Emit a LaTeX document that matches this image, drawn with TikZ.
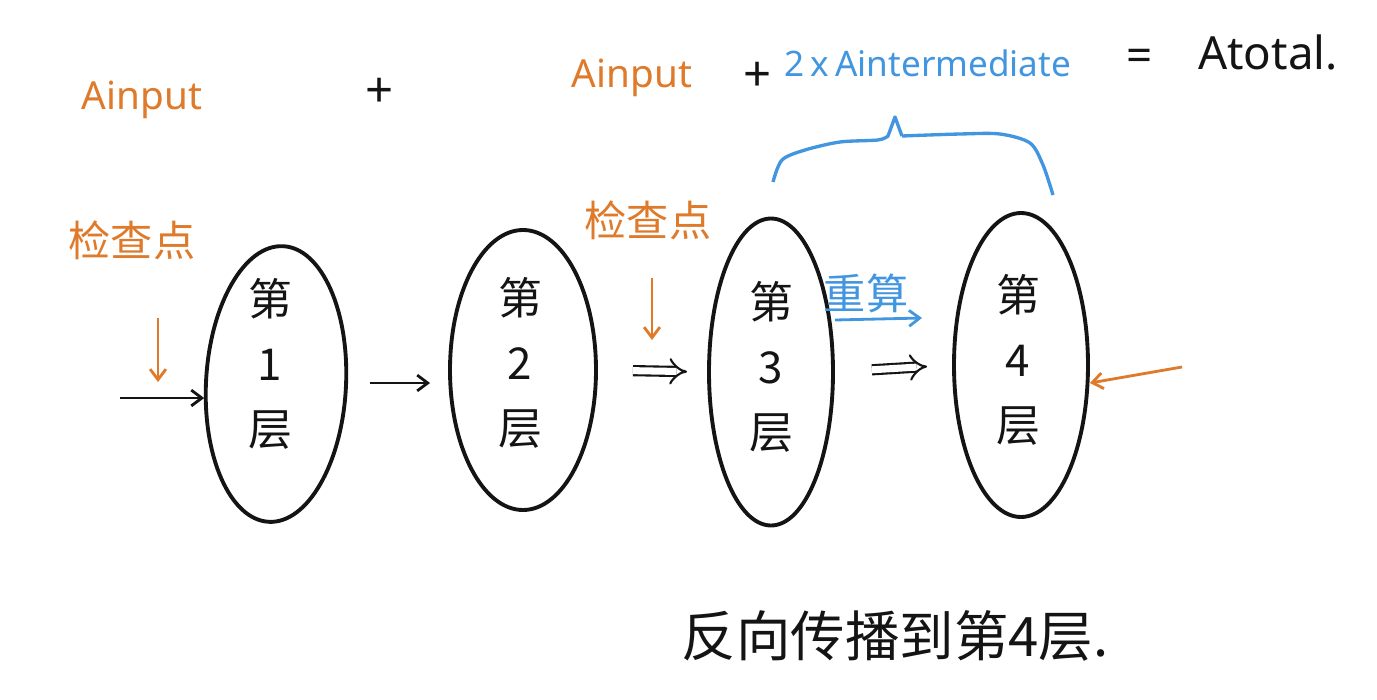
\documentclass[tikz,border=0pt]{standalone}
\usepackage{fontspec}
\setmainfont{Noto Sans}
\newfontfamily\cjk{Noto Sans CJK SC}
\usetikzlibrary{shapes.geometric,arrows.meta}
\definecolor{hand}{RGB}{20,20,20}
\definecolor{orng}{RGB}{222,122,42}
\definecolor{blu}{RGB}{66,150,224}
\tikzset{
  layer/.style={draw=hand, line width=2.2pt, ellipse, inner sep=0pt},
  ltext/.style={inner sep=0pt, align=center, font=\cjk\fontsize{25}{37}\selectfont, text=hand},
  lbl/.style={inner sep=0pt, font=\fontsize{22}{26}\selectfont},
  cjklbl/.style={inner sep=0pt, font=\cjk\fontsize{24}{28}\selectfont},
  arr/.style={line width=1.6pt, -{Straight Barb[length=6pt,width=9pt]}},
  darr/.style={line width=1.2pt, double, double distance=4pt, -{Implies[length=6pt,width=12pt]}},
}
\begin{document}
\begin{tikzpicture}[x=0.02cm,y=-0.02cm]
\useasboundingbox (0,0) rectangle (1377,700);
\fill[white] (0,0) rectangle (1377,700);
% layers
\node[layer, minimum width=140*0.02cm, minimum height=276*0.02cm, rotate=-3] (L1) at (276,384) {};
\node[layer, minimum width=146*0.02cm, minimum height=280*0.02cm] (L2) at (523,370) {};
\node[layer, minimum width=124*0.02cm, minimum height=307*0.02cm] (L3) at (771,372) {};
\node[layer, minimum width=134*0.02cm, minimum height=304*0.02cm] (L4) at (1021,365) {};
\node[ltext] (T1) at (270,364) {第\\1\\层};
\node[ltext] (T2) at (520,363) {第\\2\\层};
\node[ltext] (T3) at (771,367) {第\\3\\层};
\node[ltext] (T4) at (1018,360) {第\\4\\层};
% top formula
\node[lbl, text=orng] (a1) at (142,100) {Ainput};
\node[lbl, text=hand, font=\fontsize{28}{30}\selectfont] (p1) at (380,93) {+};
\node[lbl, text=orng] (a2) at (632,78) {Ainput};
\node[lbl, text=hand, font=\fontsize{28}{30}\selectfont] (p2) at (758,77) {+};
\node[lbl, text=blu, font=\fontsize{20}{24}\selectfont] (a3) at (928,63) {2\,x\,Aintermediate};
\node[lbl, text=hand, font=\fontsize{26}{30}\selectfont] (eq) at (1140,60) {=};
\node[lbl, text=hand, font=\fontsize{26}{30}\selectfont] (at) at (1268,52) {Atotal.};
% brace
\draw[blu, line width=1.9pt, line join=round] plot[smooth, tension=0.5] coordinates
  {(773,182) (782,160) (805,150) (840,142) (878,140) (888,136)}
  -- (895,117) -- (902,136)
  plot[smooth, tension=0.5] coordinates {(902,136) (960,134) (1000,134) (1030,143) (1043,165) (1053,195)};
% checkpoints
\node[cjklbl, text=orng] (c1) at (132,240) {检查点};
\node[cjklbl, text=orng] (c2) at (648,220) {检查点};
\coordinate (c1a) at (158,318);
\coordinate (c1b) at (158,382);
\coordinate (c2a) at (652,278);
\coordinate (c2b) at (652,340);
\draw[orng, arr] (c1a) -- (c1b);
\draw[orng, arr] (c2a) -- (c2b);
% input arrow
\coordinate (in1) at (120,398);
\draw[hand, arr] (in1) -- (in1 -| L1.west);
% between layers
\coordinate (m12) at (370,383);
\draw[hand, arr, shorten >=18*0.02cm] (m12) -- (m12 -| L2.west);
\draw[hand, darr, shorten <=35*0.02cm, shorten >=20*0.02cm] (L2.east) -- (L3.west);
\draw[hand, darr, shorten <=37*0.02cm, shorten >=25*0.02cm] (L3.east) -- (L4.west);
% recompute
\node[cjklbl, text=blu] (rc) at (866,293) {重算};
\coordinate (r1) at (835,320);
\coordinate (r2) at (922,318);
\draw[blu, arr] (r1) -- (r2);
% backward arrow into layer 4
\coordinate (b4) at (1182,367);
\draw[orng, arr] (b4) -- ([yshift=-0.36cm]L4.east);
% bottom text
\node[inner sep=0pt, font=\cjk\fontsize{31}{36}\selectfont, text=hand] (bt) at (895,636) {反向传播到第4层.};
\end{tikzpicture}
\end{document}
